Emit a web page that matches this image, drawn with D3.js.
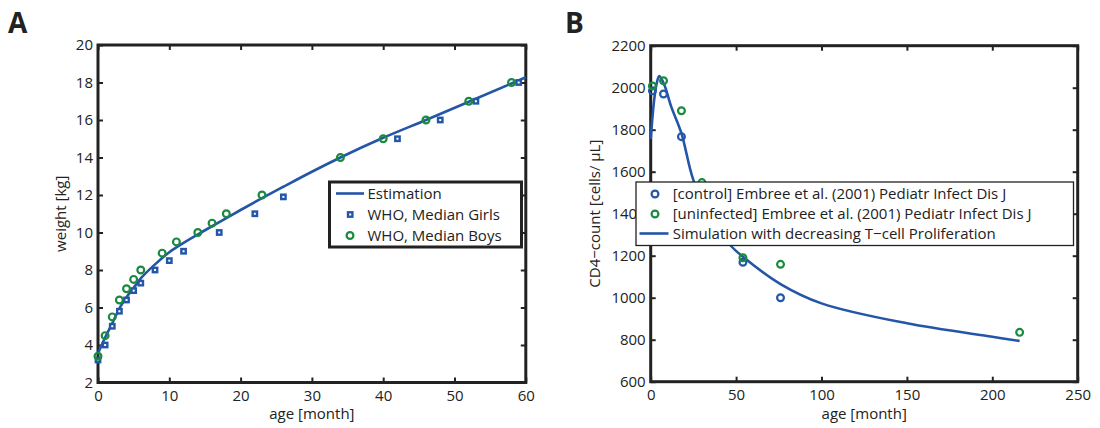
<!DOCTYPE html>
<html><head><meta charset="utf-8">
<script src="https://cdn.jsdelivr.net/npm/d3@7"></script>
<style>
body{margin:0;background:#fff}
svg text{font-family:"Open Sans",sans-serif;fill:#222}
</style></head><body>
<svg id="c" width="1100" height="428"></svg>
<script>
// ---------- Panel A data ----------
const girlsMonths = [0,1,2,3,4,5,6,8,10,12,17,22,26,42,48,53,59];
const girlsWeight = [3.2,4.0,5.0,5.8,6.4,6.9,7.3,8.0,8.5,9.0,10.0,11.0,11.9,15.0,16.0,17.0,18.0];
const boysMonths = [0,1,2,3,4,5,6,9,11,14,16,18,23,34,40,46,52,58];
const boysWeight = [3.4,4.5,5.5,6.4,7.0,7.5,8.0,8.9,9.5,10.0,10.5,11.0,12.0,14.0,15.0,16.0,17.0,18.0];
const estMonths = [0,1,2,3,4,5,6,8,10,12,15,18,20,23,26,30,34,40,46,52,58,60];
const estWeight = [3.55,4.4,5.15,5.95,6.55,7.05,7.55,8.3,8.95,9.45,10.12,10.77,11.2,11.83,12.44,13.24,14.0,15.05,16.0,16.97,17.95,18.28];
const xTicksA = [0,10,20,30,40,50,60];
const yTicksA = [2,4,6,8,10,12,14,16,18,20];
const legendA = ["Estimation","WHO, Median Girls","WHO, Median Boys"];

// ---------- Panel B data ----------
const controlMonths = [1,7.5,18,54,76];
const controlCD4 = [1985,1970,1767,1169,1000];
const uninfMonths = [1,7.5,18,30,54,76,216];
const uninfCD4 = [2008,2033,1890,1548,1190,1159,835];
const simMonths = [0,2,3.5,5,8,12,18,25,35,46.5,54,76,100,150,200,216];
const simCD4 = [1755,1940,2020,2055,2013,1910,1783,1560,1385,1251,1195,1065,973,878,814,794];
const xTicksB = [0,50,100,150,200,250];
const yTicksB = [600,800,1000,1200,1400,1600,1800,2000,2200];
const legendB = ["[control] Embree et al. (2001) Pediatr Infect Dis J",
                 "[uninfected] Embree et al. (2001) Pediatr Infect Dis J",
                 "Simulation with decreasing T\u2212cell Proliferation"];

const BLUE = "#2456a8", GREEN = "#1a8a3e", FRAME = "#222";
const svg = d3.select("#c");

function panel(o){
  const g = svg.append("g");
  const x = d3.scaleLinear().domain(o.xd).range(o.xr);
  const y = d3.scaleLinear().domain(o.yd).range(o.yr);
  const fs = "15px";
  const ax = g.append("g").attr("transform",`translate(0,${o.yr[0]})`)
    .call(d3.axisBottom(x).tickValues(o.xt).tickSize(-5).tickPadding(7.5).tickFormat(d3.format("d")));
  const axt = g.append("g").attr("transform",`translate(0,${o.yr[1]})`)
    .call(d3.axisTop(x).tickValues(o.xt).tickSize(-5).tickFormat(""));
  const ay = g.append("g").attr("transform",`translate(${o.xr[0]},0)`)
    .call(d3.axisLeft(y).tickValues(o.yt).tickSize(-5).tickPadding(5).tickFormat(d3.format("d")));
  const ayr = g.append("g").attr("transform",`translate(${o.xr[1]},0)`)
    .call(d3.axisRight(y).tickValues(o.yt).tickSize(-5).tickFormat(""));
  [ax,axt,ay,ayr].forEach(a=>{
    a.select(".domain").remove();
    a.selectAll(".tick line").attr("stroke",FRAME).attr("stroke-width",2);
    a.selectAll("text").attr("font-family","Open Sans").attr("font-size",fs).attr("fill","#222");
  });
  g.append("rect").attr("x",o.xr[0]).attr("y",o.yr[1]).attr("width",o.xr[1]-o.xr[0]).attr("height",o.yr[0]-o.yr[1])
    .attr("fill","none").attr("stroke",FRAME).attr("stroke-width",3);
  g.append("text").attr("x",(o.xr[0]+o.xr[1])/2).attr("y",419).attr("text-anchor","middle")
    .attr("font-size",fs).text(o.xlabel);
  g.append("text").attr("transform",`translate(${o.ylx},${(o.yr[0]+o.yr[1])/2}) rotate(-90)`)
    .attr("text-anchor","middle").attr("font-size",fs).text(o.ylabel);
  g.append("text").attr("x",o.lx).attr("y",33).attr("font-size","28px")
    .style("font-weight","bold").attr("fill","#000").text(o.letter);
  return {g,x,y};
}

// ---------- Panel A ----------
const A = panel({xd:[0,60],xr:[98,525.8],yd:[2,20],yr:[382.5,45],xt:xTicksA,yt:yTicksA,
  xlabel:"age [month]",ylabel:"weight [kg]",ylx:66,letter:"A",lx:8});
A.g.append("path").datum(estMonths.map((m,i)=>[m,estWeight[i]]))
  .attr("fill","none").attr("stroke",BLUE).attr("stroke-width",2.6)
  .attr("d",d3.line().x(d=>A.x(d[0])).y(d=>A.y(d[1])).curve(d3.curveMonotoneX));
A.g.selectAll(".sq").data(girlsMonths.map((m,i)=>[m,girlsWeight[i]])).join("rect")
  .attr("x",d=>A.x(d[0])-2.2).attr("y",d=>A.y(d[1])-2.2).attr("width",4.4).attr("height",4.4)
  .attr("fill","#fff").attr("stroke",BLUE).attr("stroke-width",2.4);
A.g.selectAll(".ci").data(boysMonths.map((m,i)=>[m,boysWeight[i]])).join("circle")
  .attr("cx",d=>A.x(d[0])).attr("cy",d=>A.y(d[1])).attr("r",3.4)
  .attr("fill","none").attr("stroke",GREEN).attr("stroke-width",2.2);
{
  const lg = A.g.append("g");
  lg.append("rect").attr("x",329.5).attr("y",182).attr("width",192).attr("height",65)
    .attr("fill","#fff").attr("stroke",FRAME).attr("stroke-width",3);
  const rows=[193.5,214.5,235.5];
  lg.append("line").attr("x1",336).attr("x2",364).attr("y1",rows[0]).attr("y2",rows[0])
    .attr("stroke",BLUE).attr("stroke-width",2.6);
  lg.append("rect").attr("x",348).attr("y",rows[1]-2.2).attr("width",4.4).attr("height",4.4)
    .attr("fill","#fff").attr("stroke",BLUE).attr("stroke-width",2.4);
  lg.append("circle").attr("cx",350).attr("cy",rows[2]).attr("r",3.4)
    .attr("fill","none").attr("stroke",GREEN).attr("stroke-width",2.2);
  legendA.forEach((t,i)=>lg.append("text").attr("x",367.5).attr("y",rows[i]+5.3).attr("font-size","15px").text(t));
}

// ---------- Panel B ----------
const B = panel({xd:[0,250],xr:[650.7,1077.7],yd:[600,2200],yr:[381.7,45.7],xt:xTicksB,yt:yTicksB,
  xlabel:"age [month]",ylabel:"CD4\u2212count [cells/ \u03bcL]",ylx:600,letter:"B",lx:565});
B.g.append("path").datum(simMonths.map((m,i)=>[m,simCD4[i]]))
  .attr("fill","none").attr("stroke",BLUE).attr("stroke-width",2.6)
  .attr("d",d3.line().x(d=>B.x(d[0])).y(d=>B.y(d[1])).curve(d3.curveCatmullRom));
B.g.selectAll(".cc").data(controlMonths.map((m,i)=>[m,controlCD4[i]])).join("circle")
  .attr("cx",d=>B.x(d[0])).attr("cy",d=>B.y(d[1])).attr("r",3.4)
  .attr("fill","none").attr("stroke",BLUE).attr("stroke-width",2.2);
B.g.selectAll(".cu").data(uninfMonths.map((m,i)=>[m,uninfCD4[i]])).join("circle")
  .attr("cx",d=>B.x(d[0])).attr("cy",d=>B.y(d[1])).attr("r",3.4)
  .attr("fill","none").attr("stroke",GREEN).attr("stroke-width",2.2);
{
  const lg = B.g.append("g");
  lg.append("rect").attr("x",636).attr("y",182).attr("width",437.5).attr("height",63.5)
    .attr("fill","#fff").attr("stroke",FRAME).attr("stroke-width",1.3);
  const rows=[194,214,233.5];
  lg.append("circle").attr("cx",655).attr("cy",rows[0]).attr("r",3.4)
    .attr("fill","none").attr("stroke",BLUE).attr("stroke-width",2.2);
  lg.append("circle").attr("cx",655).attr("cy",rows[1]).attr("r",3.4)
    .attr("fill","none").attr("stroke",GREEN).attr("stroke-width",2.2);
  lg.append("line").attr("x1",639.5).attr("x2",668.5).attr("y1",rows[2]).attr("y2",rows[2])
    .attr("stroke",BLUE).attr("stroke-width",2.6);
  legendB.forEach((t,i)=>lg.append("text").attr("x",672.7).attr("y",rows[i]+5.3).attr("font-size","15px").text(t));
}
</script></body></html>
